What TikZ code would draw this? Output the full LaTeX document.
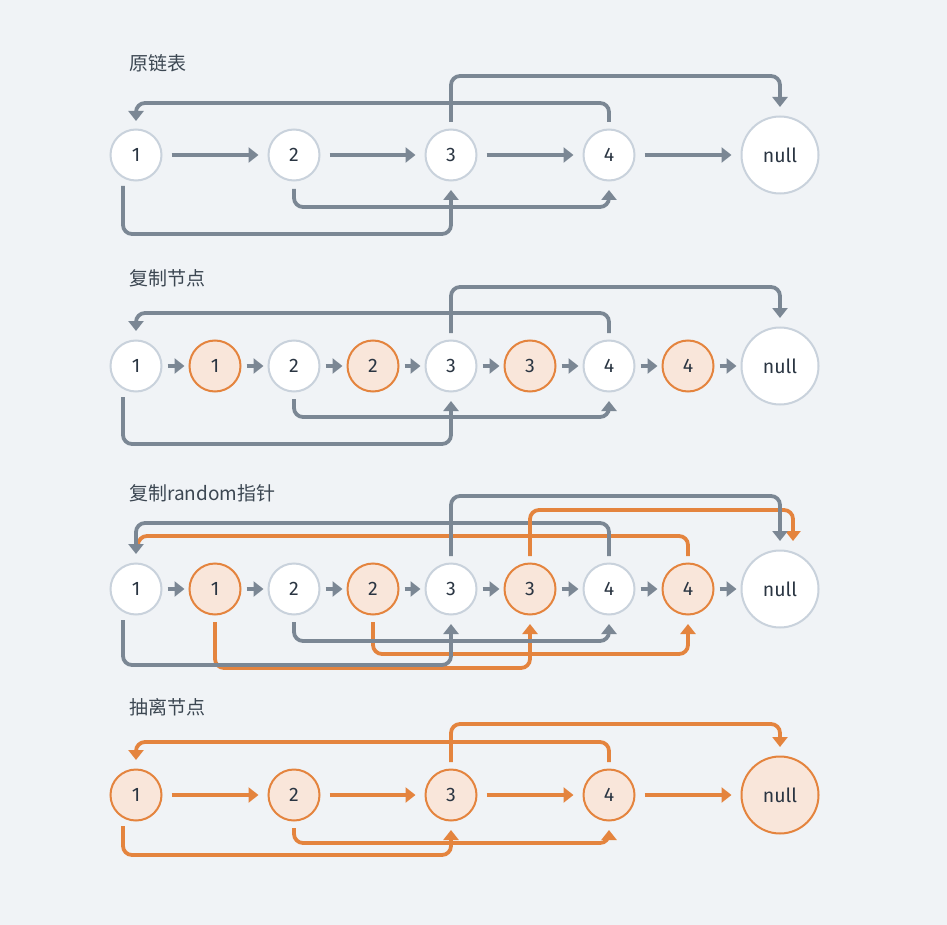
\documentclass[tikz,border=0pt]{standalone}
\usepackage{fontspec}
\setmainfont{Fira Sans}
\newfontfamily\cjk{Noto Sans CJK SC}
\usepackage{tikz}
\usetikzlibrary{arrows.meta, calc}

\definecolor{bgc}{HTML}{F0F3F6}
\definecolor{lnk}{HTML}{7B8794}
\definecolor{ring}{HTML}{C9D2DC}
\definecolor{orng}{HTML}{E4843E}
\definecolor{orngfill}{HTML}{F9E6DA}
\definecolor{numtext}{HTML}{2A3542}
\definecolor{titletext}{HTML}{3C4752}

\begin{document}
\begin{tikzpicture}
[x=1pt, y=-1pt,
num/.style={circle, draw=ring, fill=white, line width=2pt, minimum size=51pt, inner sep=0pt, outer sep=0pt, text=numtext, font=\fontsize{19.5}{19.5}\selectfont},
cpy/.style={num, draw=orng, fill=orngfill},
nil/.style={minimum size=77pt},
title/.style={anchor=west, inner sep=0pt, text=titletext, font=\cjk\fontsize{19}{19}\selectfont},
link/.style={draw=lnk, line width=3.8pt, rounded corners=9pt, -{Triangle[length=10pt,width=15pt]}},
olink/.style={link, draw=orng},
hop/.style={link, shorten <=10pt, shorten >=10pt},
ohop/.style={hop, draw=orng},
short/.style={link, shorten <=6pt, shorten >=5pt}]

\fill[bgc] (0,0) rectangle (947,925);
\useasboundingbox (0,0) rectangle (947,925);

% original list
\node[title] (t1) at (129,63) {原链表};
\foreach \i/\x in {1/136,2/294,3/451,4/609}
  \node[num] (a\i) at (\x,155) {\i};
\node[num, nil] (an) at (780,155) {null};
\foreach \i/\j in {1/2,2/3,3/4,4/n}
  \draw[hop] (a\i) -- (a\j);
\draw[link] ($(a4)+(0,-33)$) -- ++(0,-19) -| ($(a1)+(0,-34)$);
\draw[link] ($(a3)+(0,-33)$) -- ++(0,-46) -| ($(an)+(0,-48)$);
\draw[link] ($(a2)+(0,34)$) -- ++(0,18) -| ($(a4)+(0,35)$);
\draw[link] ($(a1)+(-13,31)$) -- ++(0,48) -| ($(a3)+(0,35)$);

% copy nodes
\node[title] (t2) at (129,278) {复制节点};
\foreach \i/\x in {1/136,2/294,3/451,4/609} {
  \node[num] (b\i) at (\x,366) {\i};
  \node[cpy] (bc\i) at (\x+79,366) {\i};
}
\node[num, nil] (bn) at (780,366) {null};
\foreach \i/\j in {1/2,2/3,3/4} {
  \draw[short] (b\i) -- (bc\i);
  \draw[short] (bc\i) -- (b\j);
}
\draw[short] (b4) -- (bc4);
\draw[short] (bc4) -- (bn);
\draw[link] ($(b4)+(0,-33)$) -- ++(0,-20) -| ($(b1)+(0,-35)$);
\draw[link] ($(b3)+(0,-33)$) -- ++(0,-46) -| ($(bn)+(0,-48)$);
\draw[link] ($(b2)+(0,33)$) -- ++(0,18) -| ($(b4)+(0,35)$);
\draw[link] ($(b1)+(-13,31)$) -- ++(0,47) -| ($(b3)+(0,35)$);

% copy random pointers
\node[title] (t3) at (129,493) {复制random指针};
\foreach \i/\x in {1/136,2/294,3/451,4/609} {
  \node[num] (c\i) at (\x,589) {\i};
  \node[cpy] (cc\i) at (\x+79,589) {\i};
}
\node[num, nil] (cn) at (780,589) {null};
\foreach \i/\j in {1/2,2/3,3/4} {
  \draw[short] (c\i) -- (cc\i);
  \draw[short] (cc\i) -- (c\j);
}
\draw[short] (c4) -- (cc4);
\draw[short] (cc4) -- (cn);
\draw[olink, -] ($(cc4)+(0,-33)$) -- ++(0,-20) -| ($(c1)+(2,-44)$);
\draw[olink] ($(cc1)+(0,33)$) -- ++(0,46) -| ($(cc3)+(0,35)$);
\draw[olink] ($(cc2)+(0,33)$) -- ++(0,32) -| ($(cc4)+(0,35)$);
\draw[link] ($(c4)+(0,-33)$) -- ++(0,-33) -| ($(c1)+(0,-35)$);
\draw[link] ($(c2)+(0,33)$) -- ++(0,19) -| ($(c4)+(0,35)$);
\draw[link] ($(c1)+(-13,31)$) -- ++(0,45) -| ($(c3)+(0,35)$);
\draw[olink] ($(cc3)+(0,-33)$) -- ++(0,-46) -| ($(cn)+(13,-48)$);
\draw[link] ($(c3)+(0,-33)$) -- ++(0,-60) -| ($(cn)+(0,-48)$);

% split lists
\node[title] (t4) at (129,707) {抽离节点};
\foreach \i/\x in {1/136,2/294,3/451,4/609}
  \node[cpy] (d\i) at (\x,795) {\i};
\node[cpy, nil] (dn) at (780,795) {null};
\foreach \i/\j in {1/2,2/3,3/4,4/n}
  \draw[ohop] (d\i) -- (d\j);
\draw[olink] ($(d4)+(0,-33)$) -- ++(0,-20) -| ($(d1)+(0,-35)$);
\draw[olink] ($(d3)+(0,-33)$) -- ++(0,-38) -| ($(dn)+(0,-48)$);
\draw[olink] ($(d2)+(0,33)$) -- ++(0,15) -| ($(d4)+(0,35)$);
\draw[olink] ($(d1)+(-13,31)$) -- ++(0,29) -| ($(d3)+(0,35)$);
\end{tikzpicture}
\end{document}
